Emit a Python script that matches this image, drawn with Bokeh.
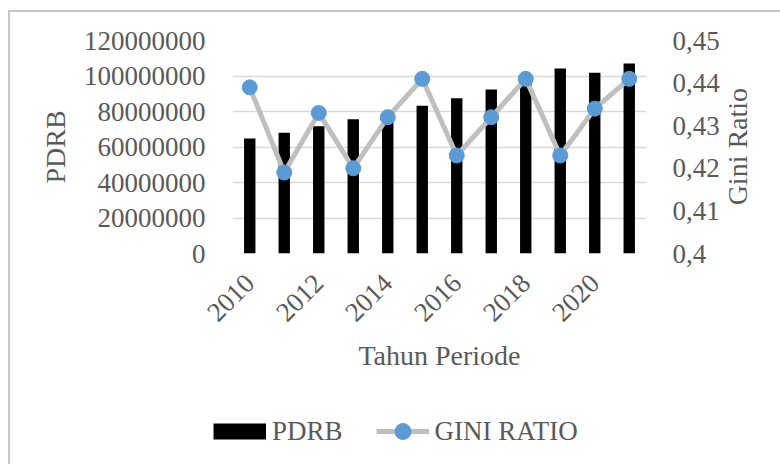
import math
from bokeh.plotting import figure
from bokeh.models import (Range1d, LinearAxis, FixedTicker, BasicTickFormatter,
                          CustomJSTickFormatter, Legend, LegendItem)
from bokeh.embed import file_html
from bokeh.resources import INLINE

years = [2010, 2011, 2012, 2013, 2014, 2015, 2016, 2017, 2018, 2019, 2020, 2021]
pdrb = [64800000, 68000000, 71700000, 75700000, 79000000, 83200000,
        87500000, 92400000, 97000000, 104200000, 101800000, 107000000]
gini = [0.439, 0.419, 0.433, 0.420, 0.432, 0.441,
        0.423, 0.432, 0.441, 0.423, 0.434, 0.441]
x_ticks = [2010, 2012, 2014, 2016, 2018, 2020]
left_ticks = [0, 20000000, 40000000, 60000000, 80000000, 100000000, 120000000]
right_ticks = [0.40, 0.41, 0.42, 0.43, 0.44, 0.45]
gini_title_at = [0.4113]

FONT = "Liberation Serif"
TXT = "#595959"
EDGE = "#c6c6c6"

p = figure(width=780, height=400, output_backend="svg", toolbar_location=None,
           x_range=Range1d(2009.5, 2021.5), y_range=Range1d(0, 120000000),
           min_border_left=232, min_border_right=134, min_border_top=40,
           min_border_bottom=147, x_axis_location=None, y_axis_location=None)
p.border_fill_alpha = 0
p.background_fill_alpha = 0
p.styles = {"background": f"linear-gradient({EDGE},{EDGE}) 8px 10px / 2px 100% no-repeat, "
                          f"linear-gradient({EDGE},{EDGE}) 8px 10px / 100% 2px no-repeat, white"}
p.outline_line_color = None
p.xgrid.grid_line_color = None
p.extra_y_ranges = {"gini": Range1d(0.40, 0.45)}

bars = p.vbar(x=years, top=pdrb, width=0.33, color="black", line_color=None)
ln = p.line(x=years, y=gini, y_range_name="gini", line_color="#BFBFBF", line_width=5)
pts = p.scatter(x=years, y=gini, y_range_name="gini", size=15,
                fill_color="#5B9BD5", line_color="#5B9BD5")

def style_axis(ax):
    ax.axis_line_color = None
    ax.major_tick_line_color = None
    ax.minor_tick_line_color = None
    ax.major_label_text_font = FONT
    ax.major_label_text_font_size = "27px"
    ax.major_label_text_color = TXT
    ax.axis_label_text_font = FONT
    ax.axis_label_text_font_size = "28px"
    ax.axis_label_text_color = TXT
    ax.axis_label_text_font_style = "normal"

xax = LinearAxis(ticker=FixedTicker(ticks=x_ticks), axis_label="Tahun Periode")
style_axis(xax)
xax.major_label_orientation = math.pi / 4
xax.major_label_standoff = 19
xax.axis_label_standoff = 8
p.add_layout(xax, "below")

lax = LinearAxis(ticker=FixedTicker(ticks=left_ticks),
                 formatter=BasicTickFormatter(use_scientific=False), axis_label="PDRB")
style_axis(lax)
lax.major_label_standoff = 21
lax.axis_label_standoff = 10
p.add_layout(lax, "left")

rax = LinearAxis(y_range_name="gini", ticker=FixedTicker(ticks=right_ticks),
                 formatter=CustomJSTickFormatter(
                     code="return tick.toFixed(2).replace(/0$/, '').replace('.', ',');"))
style_axis(rax)
rax.major_label_standoff = 20
p.add_layout(rax, "right")

# second right axis whose single tick label carries the title, read bottom to top
tax = LinearAxis(y_range_name="gini", ticker=FixedTicker(ticks=gini_title_at),
                 formatter=CustomJSTickFormatter(code="return 'Gini Ratio';"))
style_axis(tax)
tax.major_label_text_font_size = "28px"
tax.major_label_standoff = 9
tax.major_label_orientation = math.pi / 2
p.add_layout(tax, "right")

p.ygrid.ticker = FixedTicker(ticks=left_ticks)
p.ygrid.grid_line_color = "#D9D9D9"
p.ygrid.grid_line_width = 1.5

# legend strip (its key renderers sit outside the strip's visible range)
lf = figure(width=780, height=64, output_backend="svg", toolbar_location=None,
            x_range=Range1d(0, 1), y_range=Range1d(0, 1), min_border=0,
            x_axis_location=None, y_axis_location=None)
lf.border_fill_alpha = 0
lf.background_fill_alpha = 0
lf.outline_line_color = None
lf.grid.visible = False
lf.styles = {"background": f"linear-gradient({EDGE},{EDGE}) 8px 0px / 2px 100% no-repeat, white"}
key_bar = lf.line(x=years[:1], y=pdrb[:1], line_color="black", line_width=16, line_cap="butt")
key_line = lf.line(x=years[:1], y=gini[:1], line_color="#BFBFBF", line_width=5)
key_dot = lf.scatter(x=years[:1], y=gini[:1], size=15, fill_color="#5B9BD5", line_color="#5B9BD5")

legend = Legend(items=[LegendItem(label="PDRB", renderers=[key_bar]),
                       LegendItem(label="GINI RATIO", renderers=[key_line, key_dot])],
                location=(213, 13), orientation="horizontal",
                glyph_width=53, glyph_height=40, label_standoff=6, spacing=33,
                padding=0, margin=0, border_line_color=None,
                background_fill_alpha=0, label_text_font=FONT,
                label_text_font_size="27px", label_text_color=TXT)
lf.add_layout(legend)

open("out.html", "w").write(file_html([p, lf], INLINE))
